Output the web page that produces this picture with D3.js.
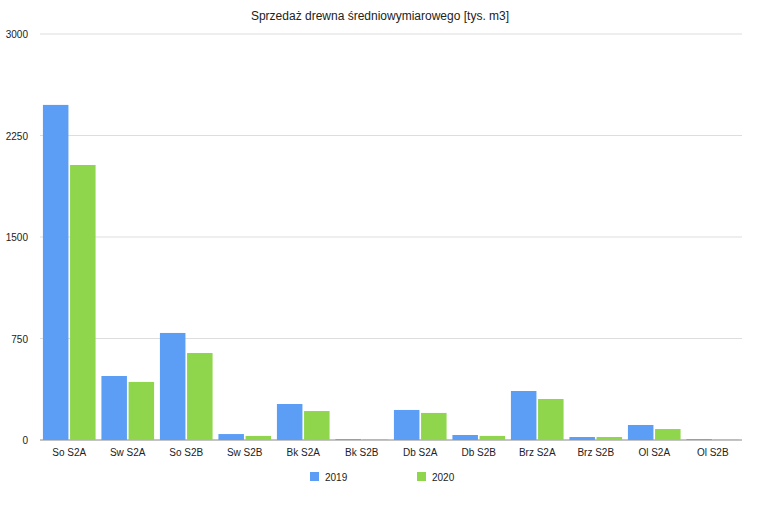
<!DOCTYPE html><html><head><meta charset="utf-8"><script src="https://d3js.org/d3.v7.min.js"></script>
<style>body{margin:0;background:#fff}text{font-family:"Helvetica Neue",Arial,"Liberation Sans",sans-serif}</style></head><body>
<script>
const categories=["So S2A","Sw S2A","So S2B","Sw S2B","Bk S2A","Bk S2B","Db S2A","Db S2B","Brz S2A","Brz S2B","Ol S2A","Ol S2B"];
const series=["2019","2020"];
const v2019=[2476,473,791,44,266,6,222,37,362,22,111,6];
const v2020=[2032,429,643,30,214,5,200,30,303,22,81,3];
const yTicks=[0,750,1500,2250,3000];
const colors=["#5c9ef6","#8fd64c"];
const W=760,H=506,m={l:40,r:18,t:34,b:66};
const svg=d3.select("body").append("svg").attr("width",W).attr("height",H);
const x=d3.scaleBand().domain(categories).range([m.l,W-m.r]).paddingInner(0.1).paddingOuter(0.05);
const x1=d3.scaleBand().domain(series).range([0,x.bandwidth()]).paddingInner(0.06);
const y=d3.scaleLinear().domain([0,3000]).range([H-m.b,m.t]);
svg.append("text").attr("x",W/2).attr("y",20).attr("text-anchor","middle").attr("font-size",12).attr("fill","#222").text("Sprzedaż drewna średniowymiarowego [tys. m3]");
svg.selectAll("line.g").data(yTicks).join("line").attr("x1",m.l).attr("x2",W-m.r).attr("y1",d=>y(d)).attr("y2",d=>y(d)).attr("stroke",d=>d===0?"#888":"#ddd");
svg.selectAll("text.y").data(yTicks).join("text").attr("x",28).attr("y",d=>y(d)+4).attr("text-anchor","end").attr("font-size",10).attr("fill","#222").text(d=>d);
const data=[v2019,v2020];
data.forEach((vals,i)=>{
 svg.append("g").selectAll("rect").data(categories).join("rect")
  .attr("x",c=>x(c)+x1(series[i])).attr("width",x1.bandwidth())
  .attr("y",(c,j)=>y(vals[j])).attr("height",(c,j)=>y(0)-y(vals[j])).attr("fill",colors[i]);
});
svg.selectAll("text.x").data(categories).join("text").attr("x",c=>x(c)+x.bandwidth()/2).attr("y",H-m.b+16).attr("text-anchor","middle").attr("font-size",10).attr("fill","#222").text(c=>c);
const lx=[310,417];
series.forEach((s,i)=>{
 svg.append("rect").attr("x",lx[i]).attr("y",472).attr("width",9).attr("height",9).attr("fill",colors[i]);
 svg.append("text").attr("x",lx[i]+15).attr("y",481).attr("font-size",10).attr("fill","#222").text(s);
});
</script></body></html>
